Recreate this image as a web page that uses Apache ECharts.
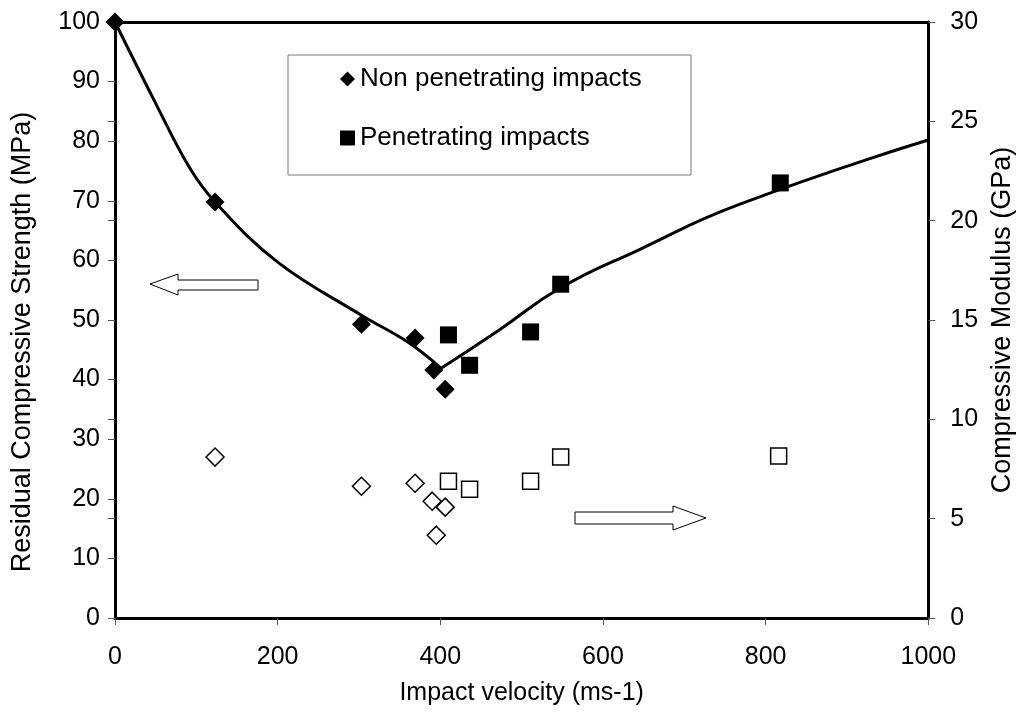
<!DOCTYPE html>
<html>
<head>
<meta charset="utf-8">
<script src="https://cdn.jsdelivr.net/npm/echarts@6/dist/echarts.min.js"></script>
<style>
  html, body { margin: 0; padding: 0; background: #fff; }
  #main { width: 1024px; height: 714px; }
</style>
</head>
<body>
<div id="main"></div>
<script>
// 数据
// non penetrating: velocity / residual strength (MPa)
var nonPenVel = [0, 123, 303, 369, 392, 406];
var nonPenStrength = [100, 69.8, 49.3, 47.0, 41.6, 38.4];
// non penetrating: velocity / modulus (GPa)
var nonPenModVel = [123, 303, 369, 390, 406, 395];
var nonPenModulus = [8.1, 6.63, 6.78, 5.88, 5.58, 4.17];

// penetrating: velocity / residual strength (MPa)
var penVel = [410, 436, 511, 548, 818];
var penStrength = [47.5, 42.4, 48.0, 56.0, 73.0];
// penetrating: velocity / modulus (GPa)
var penModVel = [410, 436, 511, 548, 816];
var penModulus = [6.88, 6.48, 6.88, 8.1, 8.15];

// trend lines
var trendLeftX = [0, 48, 91, 123, 200, 303, 360, 401];
var trendLeftY = [100, 86.9, 75.7, 69.8, 59.7, 50.8, 46.3, 41.9];
var trendRightX = [401, 472, 548, 643, 766, 1000];
var trendRightY = [41.9, 48.3, 55.4, 61.7, 69.3, 80.2];

function zip (a, b) {
  var out = [];
  for (var i = 0; i < a.length; i++) {
    out.push([a[i], b[i]]);
  }
  return out;
}

var font = 'Liberation Sans, Arial, sans-serif';
var tickStyle = { show: true, length: 7, lineStyle: { color: '#555', width: 1 } };
var labelStyle = { fontFamily: font, fontSize: 25, color: '#000' };
var gridBox = { left: 115, right: 93, top: 22, bottom: 96, containLabel: false };

var myChart = echarts.init(document.getElementById('main'));
var option = {
  animation: false,
  backgroundColor: '#fff',
  textStyle: { fontFamily: font },
  grid: [gridBox, gridBox],
  legend: {
    orient: 'vertical',
    left: 335,
    top: 61,
    itemGap: 33,
    itemWidth: 15,
    itemHeight: 15,
    textStyle: { fontFamily: font, fontSize: 26, color: '#000' },
    data: [
      { name: 'Non penetrating impacts', icon: 'diamond' },
      { name: 'Penetrating impacts', icon: 'rect' }
    ]
  },
  graphic: [
    {
      type: 'rect',
      shape: { x: 288, y: 55, width: 403, height: 120 },
      style: { fill: '#fff', stroke: '#777', lineWidth: 1 },
      z: -1
    },
    {
      // arrow pointing to left axis
      type: 'polygon',
      shape: { points: [[150, 284], [178, 274], [178, 280], [258, 280], [258, 290], [178, 290], [178, 295]] },
      style: { fill: '#fff', stroke: '#000', lineWidth: 1 }
    },
    {
      // arrow pointing to right axis
      type: 'polygon',
      shape: { points: [[575, 512], [673, 512], [673, 506], [706, 518], [673, 530], [673, 524], [575, 524]] },
      style: { fill: '#fff', stroke: '#000', lineWidth: 1 }
    }
  ],
  xAxis: [
    {
      type: 'value',
      gridIndex: 0,
      min: 0,
      max: 1000,
      interval: 200,
      name: 'Impact velocity (ms-1)',
      nameLocation: 'middle',
      nameGap: 63,
      nameTextStyle: labelStyle,
      axisLine: { show: true, lineStyle: { color: '#000', width: 3 } },
      axisTick: tickStyle,
      axisLabel: { fontFamily: font, fontSize: 25, color: '#000', margin: 27, formatter: function (v) { return String(v); } },
      splitLine: { show: false }
    },
    {
      type: 'value',
      gridIndex: 0,
      position: 'top',
      min: 0,
      max: 1000,
      axisLine: { show: true, onZero: false, lineStyle: { color: '#000', width: 3 } },
      axisTick: { show: false },
      axisLabel: { show: false },
      splitLine: { show: false }
    },
    {
      // hidden x axis of the overlay grid
      type: 'value',
      gridIndex: 1,
      min: 0,
      max: 1000,
      show: false
    }
  ],
  yAxis: [
    {
      type: 'value',
      gridIndex: 0,
      min: 0,
      max: 100,
      interval: 10,
      name: 'Residual Compressive Strength (MPa)',
      nameLocation: 'middle',
      nameGap: 79,
      nameTextStyle: { fontFamily: font, fontSize: 27, color: '#000', padding: [0, 44, 0, 0] },
      axisLine: { show: true, onZero: false, lineStyle: { color: '#000', width: 3 } },
      axisTick: tickStyle,
      axisLabel: { fontFamily: font, fontSize: 25, color: '#000', margin: 15 },
      splitLine: { show: false }
    },
    {
      type: 'value',
      gridIndex: 0,
      position: 'right',
      min: 0,
      max: 30,
      interval: 5,
      name: 'Compressive Modulus (GPa)',
      nameLocation: 'middle',
      nameGap: 60,
      nameRotate: 90,
      nameTextStyle: { fontFamily: font, fontSize: 27, color: '#000' },
      axisLine: { show: true, onZero: false, lineStyle: { color: '#000', width: 3 } },
      axisTick: tickStyle,
      axisLabel: { fontFamily: font, fontSize: 25, color: '#000', margin: 22 },
      splitLine: { show: false }
    },
    {
      // inner half of the cross ticks on the right axis
      type: 'value',
      gridIndex: 1,
      position: 'right',
      min: 0,
      max: 30,
      interval: 5,
      axisLine: { show: false },
      axisTick: { show: true, inside: true, length: 7, lineStyle: { color: '#555', width: 1 } },
      axisLabel: { show: false },
      splitLine: { show: false }
    }
  ],
  series: [
    {
      name: 'trendLeft',
      type: 'line',
      smooth: 0.4,
      showSymbol: false,
      lineStyle: { color: '#000', width: 3 },
      data: zip(trendLeftX, trendLeftY),
      z: 2
    },
    {
      name: 'trendRight',
      type: 'line',
      smooth: 0.5,
      showSymbol: false,
      lineStyle: { color: '#000', width: 3 },
      data: zip(trendRightX, trendRightY),
      z: 2
    },
    {
      name: 'Non penetrating impacts',
      type: 'scatter',
      symbol: 'diamond',
      symbolSize: 19,
      itemStyle: { color: '#000', opacity: 1 },
      data: zip(nonPenVel, nonPenStrength),
      z: 3
    },
    {
      name: 'Penetrating impacts',
      type: 'scatter',
      symbol: 'rect',
      symbolSize: 17,
      itemStyle: { color: '#000', opacity: 1 },
      data: zip(penVel, penStrength),
      z: 3
    },
    {
      name: 'nonPenModulus',
      type: 'scatter',
      yAxisIndex: 1,
      symbol: 'diamond',
      symbolSize: 18,
      itemStyle: { color: '#fff', borderColor: '#000', borderWidth: 1.5, opacity: 1 },
      data: zip(nonPenModVel, nonPenModulus),
      z: 3
    },
    {
      name: 'penModulus',
      type: 'scatter',
      yAxisIndex: 1,
      symbol: 'rect',
      symbolSize: 16,
      itemStyle: { color: '#fff', borderColor: '#000', borderWidth: 1.5, opacity: 1 },
      data: zip(penModVel, penModulus),
      z: 3
    }
  ]
};
myChart.setOption(option);
</script>
</body>
</html>
